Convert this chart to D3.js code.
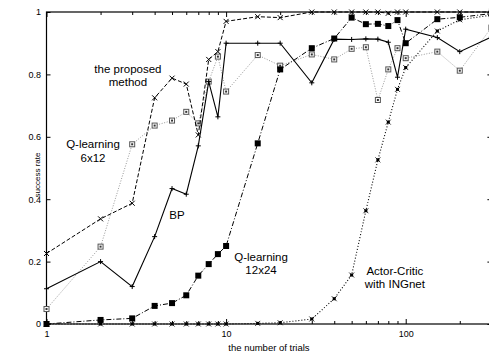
<!DOCTYPE html>
<html lang="en">
<head>
  <meta charset="UTF-8">
  <title>success rate</title>
  <style>
    body { margin: 0; background: #fff; }
    svg text { font-family: "Liberation Sans", Arial, sans-serif; fill: #000; }
  </style>
</head>
<body>
  <svg width="489" height="356"></svg>
  <script src="https://d3js.org/d3.v7.min.js"></script>
  <script>
    // number of trials (x) and success rate of each method
    var trials = [1, 2, 3, 4, 5, 6, 7, 8, 9, 10, 15, 20, 30, 40, 50, 60, 70, 80, 90, 100, 150, 200, 300];

    var proposed = [0.226, 0.337, 0.387, 0.725, 0.788, 0.769, 0.606, 0.848, 0.873, 0.970, 0.985, 0.982,
                    1.0, 1.0, 1.0, 1.0, 1.0, 0.996, 1.0, 1.0, 1.0, 1.0, 1.0];
    var bp = [0.113, 0.200, 0.120, 0.280, 0.434, 0.416, 0.571, 0.777, 0.664, 0.900, 0.900, 0.900,
              0.773, 0.913, 0.912, 0.914, 0.913, 0.903, 0.791, 0.945, 0.918, 0.873, 0.920];
    var q6x12 = [0.048, 0.248, 0.576, 0.636, 0.652, 0.680, 0.643, 0.777, 0.857, 0.745, 0.862, 0.828,
                 0.864, 0.848, 0.882, 0.887, 0.718, 0.816, 0.884, 0.852, 0.873, 0.812, 0.950];
    var q12x24 = [0, 0.013, 0.018, 0.058, 0.067, 0.092, 0.155, 0.192, 0.224, 0.250, 0.579, 0.816,
                  0.884, 0.915, 0.982, 0.961, 0.962, 0.955, 0.974, 0.900, 0.977, 0.983, 0.995];
    var actorCritic = [0, 0, 0, 0, 0, 0, 0, 0, 0, 0, 0.002, 0.004, 0.016, 0.081, 0.157, 0.363,
                       0.526, 0.647, 0.752, 0.822, 0.939, 0.975, 0.990];

    var xMajor = [1, 10, 100];
    var xMinor = [2, 3, 4, 5, 6, 7, 8, 9, 20, 30, 40, 50, 60, 70, 80, 90, 200, 300];
    var yTicks = [0, 0.2, 0.4, 0.6, 0.8, 1];

    var svg = d3.select("svg");
    var m = {left: 46.5, right: 491.4, top: 12, bottom: 324};

    var x = d3.scaleLog().domain([1, 300]).range([m.left, m.right]);
    var y = d3.scaleLinear().domain([0, 1]).range([m.bottom, m.top]);

    // axes: ticks point inward, mirrored on top and right
    function styleAxis(g) {
      g.select(".domain").remove();
      g.selectAll("line").attr("stroke", "#000");
      g.selectAll("text").style("font-size", "9px");
    }

    svg.append("g").attr("transform", "translate(0," + m.bottom + ")")
      .call(d3.axisBottom(x).tickValues(xMajor).tickSize(-5).tickPadding(6.5).tickFormat(d3.format("d")))
      .call(styleAxis);
    svg.append("g").attr("transform", "translate(0," + m.bottom + ")")
      .call(d3.axisBottom(x).tickValues(xMinor).tickSize(-3).tickFormat(""))
      .call(styleAxis);
    svg.append("g").attr("transform", "translate(0," + m.top + ")")
      .call(d3.axisTop(x).tickValues(xMajor).tickSize(-5).tickFormat(""))
      .call(styleAxis);
    svg.append("g").attr("transform", "translate(0," + m.top + ")")
      .call(d3.axisTop(x).tickValues(xMinor).tickSize(-3).tickFormat(""))
      .call(styleAxis);
    svg.append("g").attr("transform", "translate(" + m.left + ",0)")
      .call(d3.axisLeft(y).tickValues(yTicks).tickSize(-4).tickPadding(5.5).tickFormat(d3.format("")))
      .call(styleAxis);
    svg.append("g").attr("transform", "translate(" + m.right + ",0)")
      .call(d3.axisRight(y).tickValues(yTicks).tickSize(-4).tickFormat(""))
      .call(styleAxis);

    svg.append("rect")
      .attr("x", m.left).attr("y", m.top)
      .attr("width", m.right - m.left).attr("height", m.bottom - m.top)
      .attr("fill", "none").attr("stroke", "#000").attr("stroke-width", 1.2);

    svg.append("text")
      .attr("x", (m.left + m.right) / 2).attr("y", 350.5)
      .attr("text-anchor", "middle").style("font-size", "9.5px")
      .text("the number of trials");
    svg.append("text")
      .attr("transform", "translate(40,175) rotate(-90)")
      .attr("text-anchor", "middle").style("font-size", "8px")
      .text("success rate");

    var line = d3.line()
      .x(function(d) { return x(d.t); })
      .y(function(d) { return y(d.v); });

    function rows(values) {
      return trials.map(function(t, i) { return {t: t, v: values[i]}; });
    }

    var series = [
      {id: "q6x12", values: q6x12, stroke: "#999", dash: "1,1.6", width: 1},
      {id: "actor", values: actorCritic, stroke: "#000", dash: "1,2", width: 1.1},
      {id: "q12x24", values: q12x24, stroke: "#000", dash: "5,2,1,2", width: 1},
      {id: "proposed", values: proposed, stroke: "#000", dash: "4,2", width: 1},
      {id: "bp", values: bp, stroke: "#000", dash: null, width: 1.1}
    ];

    var plot = svg.append("g");

    series.forEach(function(s) {
      var data = rows(s.values);
      var g = plot.append("g").attr("class", s.id);
      g.append("path")
        .attr("d", line(data))
        .attr("fill", "none")
        .attr("stroke", s.stroke)
        .attr("stroke-width", s.width)
        .attr("stroke-dasharray", s.dash);

      var pts = g.selectAll(".pt").data(data).enter().append("g")
        .attr("class", "pt")
        .attr("transform", function(d) { return "translate(" + x(d.t) + "," + y(d.v) + ")"; });

      if (s.id == "proposed") {
        pts.append("path").attr("d", "M-2.5,-2.5L2.5,2.5M-2.5,2.5L2.5,-2.5")
          .attr("stroke", "#000").attr("stroke-width", 1);
      } else if (s.id == "bp") {
        pts.append("path").attr("d", "M-2.5,0H2.5M0,-2.5V2.5")
          .attr("stroke", "#000").attr("stroke-width", 1);
      } else if (s.id == "q6x12") {
        pts.append("rect").attr("x", -2.5).attr("y", -2.5).attr("width", 5).attr("height", 5)
          .attr("fill", "#fff").attr("stroke", "#555").attr("stroke-width", 1);
        pts.append("rect").attr("x", -1).attr("y", -1).attr("width", 2).attr("height", 2)
          .attr("fill", "#333");
      } else if (s.id == "q12x24") {
        pts.append("rect").attr("x", -3).attr("y", -3).attr("width", 6).attr("height", 6)
          .attr("fill", "#000");
      } else {
        pts.append("rect").attr("x", -1.5).attr("y", -1.5).attr("width", 3).attr("height", 3)
          .attr("fill", "#000");
        pts.append("path").attr("d", "M-2.5,-2.5L2.5,2.5M-2.5,2.5L2.5,-2.5")
          .attr("stroke", "#000").attr("stroke-width", 0.8);
      }
    });

    // curve labels, placed in data coordinates (trials, rate of the first baseline)
    var labels = [
      {lines: ["the proposed", "method"], t: 2.84, v: 0.806},
      {lines: ["Q-learning", "6x12"], t: 1.815, v: 0.563},
      {lines: ["BP"], t: 5.33, v: 0.337},
      {lines: ["Q-learning", "12x24"], t: 15.65, v: 0.202},
      {lines: ["Actor-Critic", "with INGnet"], t: 87, v: 0.157}
    ];
    labels.forEach(function(l) {
      l.lines.forEach(function(s, i) {
        svg.append("text")
          .attr("x", x(l.t)).attr("y", y(l.v) + i * 13.3)
          .attr("text-anchor", "middle").style("font-size", "11.5px")
          .text(s);
      });
    });
  </script>
</body>
</html>
